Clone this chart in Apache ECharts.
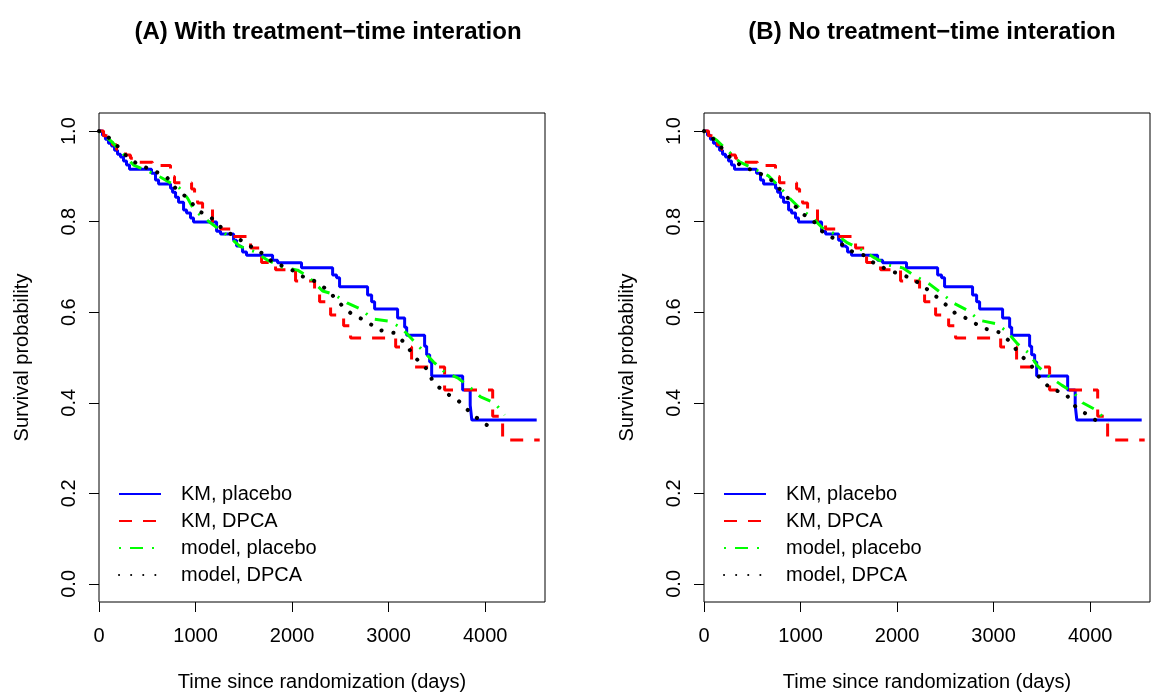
<!DOCTYPE html>
<html>
<head>
<meta charset="utf-8">
<script src="https://cdn.jsdelivr.net/npm/echarts@6/dist/echarts.min.js"></script>
<style>
html,body{margin:0;padding:0;background:#fff;}
#chart{width:1152px;height:692px;}
</style>
</head>
<body>
<div id="chart"></div>
<script>
// ---- data (time in days, survival probability) ----
const panelTitles = ['(A) With treatment\u2212time interation', '(B) No treatment\u2212time interation'];
const seriesNames = ['KM, placebo', 'KM, DPCA', 'model, placebo', 'model, DPCA'];
const xTicks = [0, 1000, 2000, 3000, 4000];
const yTicks = [0, 0.2, 0.4, 0.6, 0.8, 1.0];
const xLabel = 'Time since randomization (days)';
const yLabel = 'Survival probability';

const kmPlacebo = [[0,1],[36,0.991],[67,0.982],[98,0.973],[130,0.967],[161,0.958],[192,0.949],[223,0.943],[254,0.934],[285,0.925],[316,0.916],[544,0.907],[585,0.892],[617,0.883],[741,0.874],[762,0.865],[793,0.854],[824,0.843],[876,0.826],[907,0.819],[948,0.808],[979,0.799],[1218,0.779],[1259,0.773],[1394,0.759],[1425,0.746],[1466,0.742],[1487,0.733],[1528,0.726],[1798,0.715],[1850,0.709],[2098,0.698],[2420,0.682],[2461,0.676],[2492,0.656],[2782,0.638],[2824,0.623],[2855,0.607],[3093,0.587],[3166,0.567],[3187,0.549],[3373,0.525],[3394,0.506],[3425,0.490],[3446,0.459],[3767,0.428],[3845,0.395],[3862,0.362],[4534,0.362]];

const kmDpca = [[0,1],[47,0.99],[88,0.98],[140,0.97],[181,0.96],[223,0.953],[275,0.947],[326,0.94],[389,0.931],[554,0.924],[741,0.9],[782,0.886],[959,0.872],[990,0.855],[1021,0.841],[1073,0.827],[1176,0.797],[1259,0.784],[1383,0.767],[1570,0.742],[1684,0.71],[1829,0.694],[2036,0.669],[2233,0.645],[2285,0.623],[2399,0.594],[2534,0.57],[2606,0.543],[3073,0.523],[3238,0.479],[3580,0.428],[4078,0.37],[4181,0.318],[4565,0.318]];

const modelPlaceboA = [[0,1],[130,0.977],[358,0.925],[523,0.91],[648,0.897],[834,0.874],[917,0.852],[990,0.824],[1104,0.806],[1145,0.799],[1352,0.766],[1456,0.746],[1622,0.733],[1746,0.715],[1891,0.7],[2057,0.693],[2171,0.678],[2316,0.647],[2430,0.64],[2575,0.62],[2710,0.607],[2834,0.585],[3010,0.58],[3135,0.565],[3249,0.539],[3352,0.516],[3466,0.49],[3580,0.468],[3715,0.455],[3839,0.435],[3953,0.413],[4098,0.4],[4202,0.373]];

const modelDpcaA = [[0,1],[36,0.998],[161,0.974],[275,0.947],[399,0.927],[554,0.914],[699,0.899],[793,0.874],[917,0.852],[1031,0.824],[1166,0.808],[1280,0.784],[1415,0.766],[1528,0.751],[1684,0.731],[1808,0.709],[1964,0.698],[2098,0.68],[2254,0.667],[2378,0.647],[2492,0.62],[2617,0.596],[2772,0.58],[2896,0.561],[3062,0.554],[3176,0.53],[3269,0.501],[3394,0.475],[3466,0.444],[3591,0.422],[3725,0.404],[3839,0.38],[3964,0.358],[4098,0.34]];

const modelPlaceboB = [[0,1],[130,0.98],[368,0.932],[668,0.901],[782,0.877],[886,0.852],[990,0.83],[1124,0.808],[1228,0.786],[1373,0.771],[1487,0.753],[1643,0.737],[1767,0.72],[1912,0.704],[2057,0.698],[2202,0.678],[2337,0.662],[2472,0.64],[2586,0.62],[2731,0.604],[2855,0.582],[3021,0.575],[3135,0.558],[3249,0.53],[3363,0.51],[3456,0.481],[3570,0.459],[3705,0.439],[3829,0.422],[3922,0.4],[4078,0.382],[4181,0.355]];

const modelDpcaB = [[0,1],[36,0.996],[150,0.971],[254,0.945],[389,0.923],[544,0.91],[679,0.896],[793,0.87],[907,0.843],[1010,0.819],[1135,0.801],[1238,0.775],[1383,0.759],[1497,0.737],[1653,0.726],[1777,0.706],[1933,0.691],[2088,0.68],[2223,0.665],[2347,0.645],[2472,0.623],[2596,0.599],[2751,0.583],[2886,0.565],[3052,0.556],[3166,0.536],[3269,0.508],[3394,0.481],[3477,0.455],[3591,0.431],[3746,0.42],[3850,0.391],[3974,0.373],[4119,0.353]];

// ---- layout / style ----
const FONT = 'Liberation Sans, Arial, Helvetica, sans-serif';
const grids = [
  {left: 99, top: 113, width: 446, height: 489, show: true, borderColor: '#000', borderWidth: 1, backgroundColor: 'transparent', containLabel: false, outerBoundsMode: 'none'},
  {left: 704, top: 113, width: 446, height: 489, show: true, borderColor: '#000', borderWidth: 1, backgroundColor: 'transparent', containLabel: false, outerBoundsMode: 'none'}
];

function xAxisFor(i) {
  return {
    type: 'value', gridIndex: i, min: 0, max: 4620, position: 'bottom',
    splitLine: {show: false},
    axisLine: {show: false, onZero: false},
    axisTick: {show: true, inside: false, length: 10, lineStyle: {color: '#000', width: 1}, customValues: xTicks},
    axisLabel: {show: true, color: '#000', fontSize: 20, fontFamily: FONT, margin: 24, customValues: xTicks,
      formatter: v => String(v)},
    name: xLabel, nameLocation: 'middle', nameGap: 70,
    nameTextStyle: {color: '#000', fontSize: 20, fontFamily: FONT, verticalAlign: 'top'}
  };
}
function yAxisFor(i) {
  return {
    type: 'value', gridIndex: i, min: -0.04, max: 1.04, position: 'left',
    splitLine: {show: false},
    axisLine: {show: false, onZero: false},
    axisTick: {show: true, inside: false, length: 10, lineStyle: {color: '#000', width: 1}, customValues: yTicks},
    axisLabel: {show: true, color: '#000', fontSize: 20, fontFamily: FONT, margin: 20, rotate: 90, customValues: yTicks,
      formatter: v => Number(v).toFixed(1)},
    name: yLabel, nameLocation: 'middle', nameGap: 67, nameRotate: 90,
    nameTextStyle: {color: '#000', fontSize: 20, fontFamily: FONT, verticalAlign: 'bottom'}
  };
}

const styles = [
  {color: '#0000FF', lineStyle: {color: '#0000FF', width: 3, type: 'solid'}, step: 'end'},
  {color: '#FF0000', lineStyle: {color: '#FF0000', width: 3, type: [13, 11]}, step: 'end'},
  {color: '#00FF00', lineStyle: {color: '#00FF00', width: 3, type: [2, 9, 13, 9]}, step: false},
  {color: '#000000', lineStyle: {color: '#000000', width: 4, type: [0.1, 12], cap: 'round'}, step: false}
];

const panelData = [
  [kmPlacebo, kmDpca, modelPlaceboA, modelDpcaA],
  [kmPlacebo, kmDpca, modelPlaceboB, modelDpcaB]
];

const series = [];
panelData.forEach((arr, p) => {
  arr.forEach((d, k) => {
    const st = styles[k];
    series.push({
      type: 'line', name: seriesNames[k], xAxisIndex: p, yAxisIndex: p,
      data: d, step: st.step, symbol: 'none', showSymbol: false, smooth: false,
      itemStyle: {color: st.color}, lineStyle: st.lineStyle,
      z: [2, 3, 4, 5][k], silent: true
    });
  });
});

function legendFor(left) {
  return {
    orient: 'vertical', left: left, top: 484, padding: 0, itemWidth: 42, itemHeight: 14, itemGap: 7,
    data: seriesNames, selectedMode: false,
    itemStyle: {color: 'rgba(0,0,0,0)', borderWidth: 0, opacity: 0},
    textStyle: {color: '#000', fontSize: 20, fontFamily: FONT, lineHeight: 20, padding: [0, 0, 0, 15]}
  };
}

const option = {
  animation: false,
  backgroundColor: '#fff',
  grid: grids,
  xAxis: [xAxisFor(0), xAxisFor(1)],
  yAxis: [yAxisFor(0), yAxisFor(1)],
  legend: [legendFor(118), legendFor(723)],
  graphic: [
    {type: 'text', x: 328, y: 32, style: {text: panelTitles[0], fill: '#000', font: 'bold 24px ' + FONT, textAlign: 'center', textVerticalAlign: 'middle'}},
    {type: 'text', x: 932, y: 32, style: {text: panelTitles[1], fill: '#000', font: 'bold 24px ' + FONT, textAlign: 'center', textVerticalAlign: 'middle'}}
  ],
  series: series
};

const chart = echarts.init(document.getElementById('chart'), null, {renderer: 'canvas'});
chart.setOption(option);
</script>
</body>
</html>
